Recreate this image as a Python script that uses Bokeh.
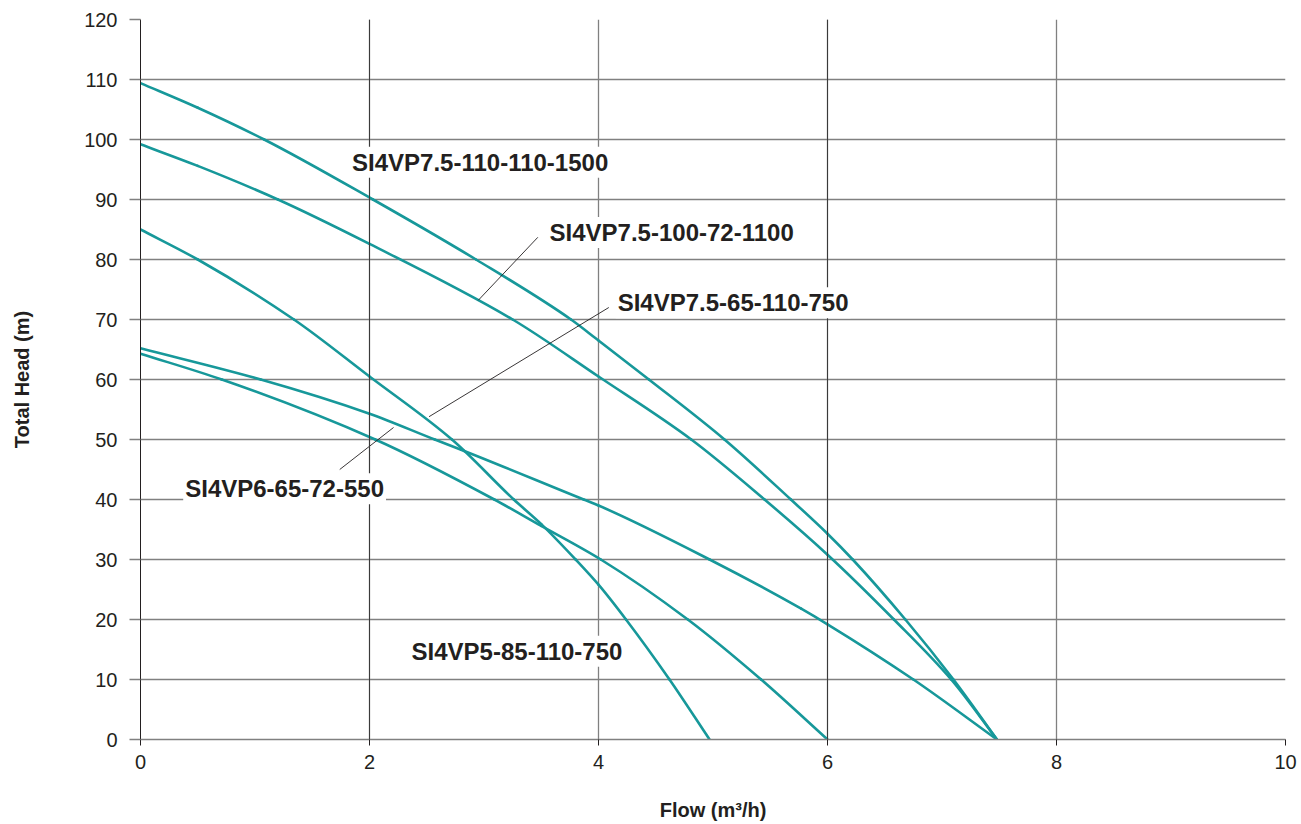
from bokeh.plotting import figure
from bokeh.models import Label, Span, FixedTicker, Range1d
from bokeh.embed import file_html
from bokeh.resources import INLINE

# Pump performance curves: flow (m3/h) vs total head (m)
flow_75_110_1500 = [0, 0.5, 1.08, 2.03, 2.93, 3.76, 4.0, 4.44, 5.1, 5.68, 6.0, 6.22, 6.68, 7.1, 7.48]
head_75_110_1500 = [109.4, 105.3, 100, 90, 80, 70, 66.5, 60, 50, 40, 34.3, 30, 20, 10, 0]

flow_75_100_1100 = [0, 0.5, 1.2, 2.0, 3.25, 4.0, 4.81, 5.45, 6.0, 6.58, 7.08, 7.48]
head_75_100_1100 = [99.2, 95.6, 90, 82.6, 70, 60.5, 50, 40, 30.8, 20, 10, 0]

flow_5_85_750 = [0, 0.5, 1.34, 2.0, 2.72, 3.26, 3.5, 3.8, 4.0, 4.24, 4.62, 4.97]
head_5_85_750 = [85, 80, 70, 60.5, 50, 40, 35.9, 30, 25.8, 20, 10, 0]

flow_75_65_750 = [0, 1.05, 2.0, 2.57, 2.8, 3.87, 4.0, 4.97, 5.77, 6.0, 6.75, 7.48]
head_75_65_750 = [65.2, 60, 54.3, 50, 48.3, 40, 39, 30, 21.8, 19.2, 10, 0]

flow_6_65_550 = [0, 0.71, 2.05, 3.09, 3.5, 4.02, 4.78, 5.42, 6.0]
head_6_65_550 = [64.3, 60, 50, 40, 35.6, 30, 20, 10, 0]

curves = [
    (flow_75_110_1500, head_75_110_1500),
    (flow_75_100_1100, head_75_100_1100),
    (flow_5_85_750, head_5_85_750),
    (flow_75_65_750, head_75_65_750),
    (flow_6_65_550, head_6_65_550),
]

# Model names and where their labels sit (data coords, left/baseline)
model_names = ["SI4VP7.5-110-110-1500", "SI4VP7.5-100-72-1100", "SI4VP7.5-65-110-750",
               "SI4VP6-65-72-550", "SI4VP5-85-110-750"]
label_x = [1.83, 3.555, 4.15, 0.373, 2.35]
label_y = [96.2, 84.5, 72.8, 41.8, 14.7]

# Thin leader lines from labels to curves
lead_x0 = [2.95, 2.52, 1.74]
lead_y0 = [73.2, 53.8, 45.0]
lead_x1 = [3.47, 4.09, 2.21]
lead_y1 = [83.7, 72.0, 52.0]

x_ticks = [0, 2, 4, 6, 8, 10]
y_ticks = list(range(0, 121, 10))
dark_verticals = [2, 6]

TEXT = "#231f20"
TEAL = "#17989a"
GRID = "#808080"
FONT = "Liberation Sans"


def smooth_segments(xs, ys):
    """Cubic Bezier pieces through every point (monotone Hermite tangents)."""
    n = len(xs)
    d = [(ys[i + 1] - ys[i]) / (xs[i + 1] - xs[i]) for i in range(n - 1)]
    m = [d[0]] + [0.0] * (n - 2) + [d[-1]]
    for i in range(1, n - 1):
        if d[i - 1] * d[i] <= 0:
            m[i] = 0.0
        else:
            h0 = xs[i] - xs[i - 1]
            h1 = xs[i + 1] - xs[i]
            w1, w2 = 2 * h1 + h0, h1 + 2 * h0
            m[i] = (w1 + w2) / (w1 / d[i - 1] + w2 / d[i])
    seg = dict(x0=[], y0=[], x1=[], y1=[], cx0=[], cy0=[], cx1=[], cy1=[])
    for i in range(n - 1):
        h = xs[i + 1] - xs[i]
        seg["x0"].append(xs[i]); seg["y0"].append(ys[i])
        seg["x1"].append(xs[i + 1]); seg["y1"].append(ys[i + 1])
        seg["cx0"].append(xs[i] + h / 3); seg["cy0"].append(ys[i] + m[i] * h / 3)
        seg["cx1"].append(xs[i + 1] - h / 3); seg["cy1"].append(ys[i + 1] - m[i + 1] * h / 3)
    return seg


p = figure(width=1301, height=824, output_backend="svg", toolbar_location=None,
           x_range=Range1d(0, 10), y_range=Range1d(0, 120),
           min_border_left=140, min_border_right=16, min_border_top=19, min_border_bottom=85)
p.outline_line_color = None
p.background_fill_color = "white"
p.border_fill_color = "white"

p.xgrid.ticker = FixedTicker(ticks=x_ticks)
p.ygrid.ticker = FixedTicker(ticks=y_ticks)
p.xgrid.grid_line_color = GRID
p.ygrid.grid_line_color = GRID
p.xgrid.grid_line_width = 1.3
p.ygrid.grid_line_width = 1.3

for loc in dark_verticals:
    p.add_layout(Span(location=loc, dimension="height", line_color="#3a3a3a", line_width=1))

# axes
p.xaxis.ticker = FixedTicker(ticks=x_ticks)
p.yaxis.ticker = FixedTicker(ticks=y_ticks)
for ax in (p.xaxis[0], p.yaxis[0]):
    ax.minor_tick_line_color = None
    ax.major_tick_in = 0
    ax.major_label_text_font = FONT
    ax.major_label_text_font_size = "20px"
    ax.major_label_text_color = TEXT
    ax.axis_label_text_font = FONT
    ax.axis_label_text_font_size = "20px"
    ax.axis_label_text_font_style = "bold"
    ax.axis_label_text_color = TEXT

p.yaxis.axis_line_color = TEXT
p.yaxis.major_tick_line_color = GRID
p.yaxis.major_tick_line_width = 1.3
p.yaxis.major_tick_out = 11
p.yaxis.major_label_standoff = 12
p.yaxis.axis_label = "Total Head (m)"
p.yaxis.axis_label_standoff = 48

p.xaxis.axis_line_color = GRID
p.xaxis.axis_line_width = 1.3
p.xaxis.major_tick_line_color = TEXT
p.xaxis.major_tick_out = 6
p.xaxis.major_label_standoff = 9
p.xaxis.axis_label = "Flow (m\u00b3/h)"
p.xaxis.axis_label_standoff = 27

for fx, hy in curves:
    s = smooth_segments(fx, hy)
    p.bezier(x0=s["x0"], y0=s["y0"], x1=s["x1"], y1=s["y1"],
             cx0=s["cx0"], cy0=s["cy0"], cx1=s["cx1"], cy1=s["cy1"],
             line_color=TEAL, line_width=2.6, line_cap="round")

p.segment(x0=lead_x0, y0=lead_y0, x1=lead_x1, y1=lead_y1, line_color=TEXT, line_width=0.9)

for name, lx, ly in zip(model_names, label_x, label_y):
    p.add_layout(Label(x=lx, y=ly, text=name, text_font=FONT, text_font_size="24px",
                       text_font_style="bold", text_color=TEXT, text_align="left",
                       text_baseline="alphabetic", background_fill_color="white",
                       padding=2))

open("out.html", "w").write(file_html(p, INLINE))
